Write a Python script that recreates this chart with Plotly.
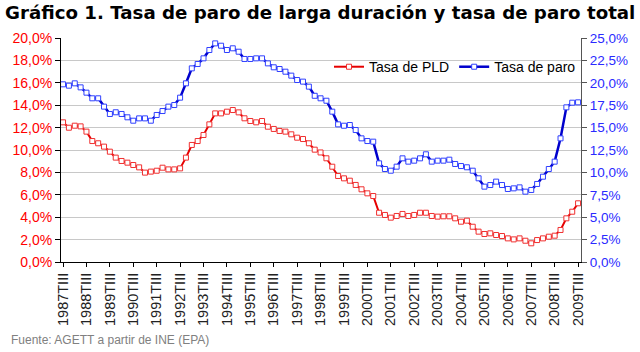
import plotly.graph_objects as go

years = list(range(1987, 2010))
roman = ["I", "II", "III", "IV"]
quarters = [f"{y}T{roman[q]}" for y in years for q in range(4)][2:-1]  # 1987TIII .. 2009TIII

tick_labels = [f"{y}TIII" for y in years]

tasa_pld = [12.47, 11.99, 12.17, 12.11, 11.64, 10.80, 10.60, 10.30, 9.85, 9.32,
            9.02, 8.87, 8.66, 8.45, 7.98, 8.07, 8.15, 8.42, 8.27, 8.27,
            8.36, 9.32, 10.45, 10.80, 11.34, 12.29, 13.27, 13.27, 13.42, 13.57,
            13.36, 12.83, 12.59, 12.47, 12.59, 12.08, 11.88, 11.70, 11.64, 11.40,
            11.10, 10.98, 10.60, 10.03, 9.78, 9.26, 8.51, 7.68, 7.47, 7.26,
            6.88, 6.49, 6.13, 5.89, 4.40, 4.20, 3.96, 4.11, 4.29, 4.11,
            4.20, 4.40, 4.40, 4.11, 4.05, 4.08, 4.08, 3.90, 3.60, 3.69,
            3.15, 2.71, 2.50, 2.56, 2.41, 2.32, 2.11, 2.02, 2.11, 1.90,
            1.67, 1.96, 2.11, 2.26, 2.35, 2.86, 3.90, 4.49, 5.24]

tasa_paro = [19.83, 19.68, 19.94, 19.49, 18.90, 18.27, 18.27, 17.34, 16.52, 16.71,
             16.52, 16.15, 15.77, 16.03, 16.03, 15.77, 16.41, 16.85, 17.34, 17.52,
             18.34, 19.94, 21.61, 22.10, 22.73, 23.66, 24.40, 24.14, 23.66, 23.85,
             23.47, 22.66, 22.66, 22.73, 22.73, 22.17, 21.73, 21.54, 21.24, 20.80,
             20.31, 20.13, 19.57, 18.55, 18.27, 18.00, 16.78, 15.36, 15.21, 15.29,
             14.73, 13.80, 13.50, 13.43, 11.01, 10.38, 10.19, 10.64, 11.57, 11.20,
             11.31, 11.57, 12.02, 11.20, 11.31, 11.31, 11.42, 10.94, 10.71, 10.57,
             10.19, 9.34, 8.41, 8.59, 8.97, 8.59, 8.15, 8.22, 8.33, 7.85,
             8.04, 8.71, 9.52, 10.38, 11.20, 13.80, 17.26, 17.78, 17.82]

left_vals = [0, 2, 4, 6, 8, 10, 12, 14, 16, 18, 20]
left_text = ["0,0%", "2,0%", "4,0%", "6,0%", "8,0%", "10,0%", "12,0%", "14,0%", "16,0%", "18,0%", "20,0%"]
right_vals = [0, 2.5, 5, 7.5, 10, 12.5, 15, 17.5, 20, 22.5, 25]
right_text = ["0,0%", "2,5%", "5,0%", "7,5%", "10,0%", "12,5%", "15,0%", "17,5%", "20,0%", "22,5%", "25,0%"]

fig = go.Figure()
fig.add_trace(go.Scatter(
    x=quarters, y=tasa_pld, name="Tasa de PLD", mode="lines+markers",
    line=dict(color="#e60000", width=2),
    marker=dict(symbol="square", size=5, color="white", line=dict(color="#f03030", width=1)),
))
fig.add_trace(go.Scatter(
    x=quarters, y=tasa_paro, name="Tasa de paro", mode="lines+markers", yaxis="y2",
    line=dict(color="#0000cc", width=2.5),
    marker=dict(symbol="square", size=5, color="white", line=dict(color="#3040ff", width=1)),
))

fig.update_layout(
    width=640, height=352,
    margin=dict(l=60, r=57, t=38, b=90),
    paper_bgcolor="white", plot_bgcolor="white",
    font=dict(family="Liberation Sans, Arial", size=13, color="black"),
    title=dict(text="<b>Gráfico 1. Tasa de paro de larga duración y tasa de paro total</b>",
               font=dict(family="DejaVu Sans", size=18.2, color="black"),
               x=0.008, xanchor="left", y=0.965, yanchor="middle", xref="container", yref="container"),
    showlegend=True,
    legend=dict(orientation="h", x=1.0, xanchor="right", y=0.87, yanchor="middle",
                bgcolor="rgba(255,255,255,0)", font=dict(size=14, color="black"),
                itemwidth=30, tracegroupgap=0),
    xaxis=dict(
        type="category", categoryorder="array", categoryarray=quarters,
        range=[-0.35, 88.5],
        tickmode="array", tickvals=tick_labels, ticktext=tick_labels,
        tickangle=-90, tickfont=dict(size=14.5, color="#222222"),
        ticks="outside", ticklen=4, tickcolor="black",
        showline=True, linecolor="black", linewidth=1,
        showgrid=False, zeroline=False,
        minor=dict(ticks="outside", ticklen=4, tickcolor="black", showgrid=False),
    ),
    yaxis=dict(
        range=[0, 20], tickmode="array", tickvals=left_vals, ticktext=left_text,
        tickfont=dict(size=14, color="#ff0000"),
        ticks="outside", ticklen=5, tickcolor="black",
        showline=True, linecolor="black", linewidth=1,
        showgrid=True, gridcolor="#c8c8c8", gridwidth=1, zeroline=False,
    ),
    yaxis2=dict(
        range=[0, 25], overlaying="y", side="right",
        tickmode="array", tickvals=right_vals, ticktext=right_text,
        tickfont=dict(size=13.5, color="#2a2aff"),
        ticks="outside", ticklen=5, tickcolor="#555555",
        showline=True, linecolor="#555555", linewidth=1,
        showgrid=False, zeroline=False,
    ),
)

fig.add_annotation(text="Fuente: AGETT a partir de INE (EPA)", xref="paper", yref="paper",
                   x=-0.0994, y=-0.348, xanchor="left", yanchor="middle", showarrow=False,
                   font=dict(size=12, color="#808080", family="Liberation Sans, Arial"))

fig.write_html("out.html")
